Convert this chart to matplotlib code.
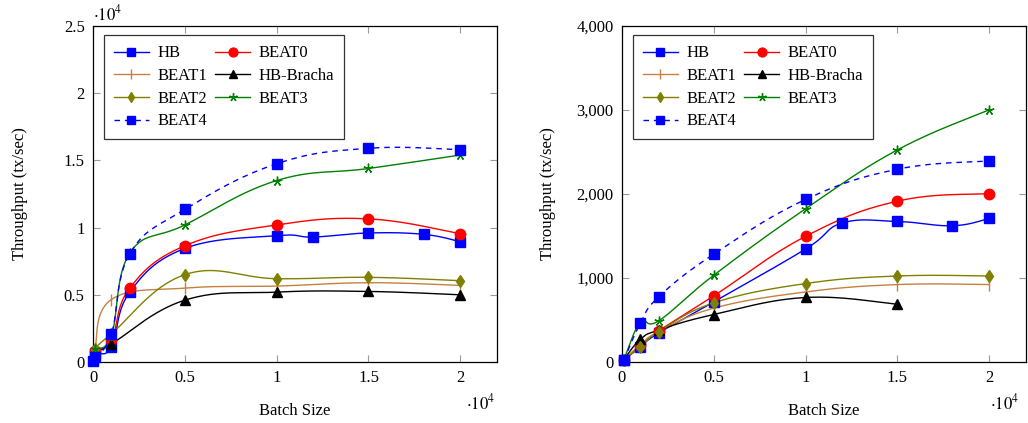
import numpy as np
import matplotlib
matplotlib.use("Agg")
import matplotlib.pyplot as plt
from matplotlib.lines import Line2D
from matplotlib.ticker import FuncFormatter

plt.rcParams['font.family'] = ['Liberation Serif', 'DejaVu Serif']
plt.rcParams['mathtext.fontset'] = 'stix'
plt.rcParams['font.size'] = 12

# ---- left panel data (tx/sec) ----
L_HB_X = [10, 100, 1000, 2000, 5000, 10000, 12000, 15000, 18000, 20000]
L_HB_Y = [50, 650, 1100, 5200, 8450, 9400, 9300, 9600, 9500, 8950]
L_X7 = [100, 1000, 2000, 5000, 10000, 15000, 20000]
L_BEAT0 = [850, 1650, 5500, 8650, 10200, 10650, 9550]
L_BEAT3 = [1000, 2000, 8100, 10200, 13500, 14400, 15400]
L_BEAT4 = [350, 2100, 8050, 11350, 14750, 15900, 15800]
L_X6 = [100, 1000, 5000, 10000, 15000, 20000]
L_BEAT1 = [1000, 4650, 5500, 5650, 5900, 5700]
L_BEAT2 = [1000, 2100, 6500, 6200, 6300, 6050]
L_BRACHA = [700, 1350, 4600, 5200, 5250, 5000]

# ---- right panel data (tx/sec) ----
R_HB_X = [100, 1000, 2000, 5000, 10000, 12000, 15000, 18000, 20000]
R_HB_Y = [20, 182, 345, 716, 1345, 1655, 1673, 1622, 1709]
R_X7 = [100, 1000, 2000, 5000, 10000, 15000, 20000]
R_BEAT0 = [25, 200, 370, 787, 1496, 1915, 2006]
R_BEAT1 = [25, 205, 360, 641, 834, 922, 922]
R_BEAT2 = [25, 174, 360, 704, 934, 1024, 1024]
R_BEAT3 = [25, 470, 490, 1033, 1824, 2525, 3003]
R_BEAT4 = [20, 459, 775, 1284, 1935, 2295, 2394]
R_BRACHA_X = [100, 1000, 2000, 5000, 10000, 15000]
R_BRACHA = [30, 269, 380, 565, 768, 688]

STYLES = {
    "HB":        dict(color=(0, 0, 1), marker="s", ms=7, ls="-"),
    "BEAT0":     dict(color=(1, 0, 0), marker="o", ms=7.5, ls="-"),
    "BEAT1":     dict(color=(0.78, 0.5, 0.25), marker="|", ms=8, ls="-"),
    "HB-Bracha": dict(color=(0, 0, 0), marker="^", ms=6.5, ls="-"),
    "BEAT2":     dict(color=(0.5, 0.5, 0), marker="d", ms=6.5, ls="-"),
    "BEAT3":     dict(color=(0, 0.5, 0), marker=(5, 2, 0), ms=7, ls="-"),
    "BEAT4":     dict(color=(0, 0, 1), marker="s", ms=7, ls=(0, (4, 3.5))),
}


def smooth_plot(ax, xs, ys, name, tension=0.2):
    # smooth curve through the points (like pgfplots "smooth"), drawn in screen space
    st = STYLES[name]
    x0, x1 = ax.get_xlim()
    y0, y1 = ax.get_ylim()
    bb = ax.get_position()
    fw, fh = ax.figure.get_size_inches()
    sx = bb.width * fw / (x1 - x0)
    sy = bb.height * fh / (y1 - y0)
    p = np.column_stack([(np.asarray(xs, float) - x0) * sx,
                         (np.asarray(ys, float) - y0) * sy])
    n = len(p)
    t = np.linspace(0, 1, 40)[:, None]
    segs = []
    for i in range(n - 1):
        a, b = p[i], p[i + 1]
        prev = p[i - 1] if i > 0 else a
        nxt = p[i + 2] if i + 2 < n else b
        c1 = a + tension * (b - prev)
        c2 = b - tension * (nxt - a)
        seg = (1 - t) ** 3 * a + 3 * (1 - t) ** 2 * t * c1 + 3 * (1 - t) * t ** 2 * c2 + t ** 3 * b
        segs.append(seg if i == 0 else seg[1:])
    pts = np.vstack(segs)
    ax.plot(pts[:, 0] / sx + x0, pts[:, 1] / sy + y0, color=st["color"],
            ls=st["ls"], lw=1.0, zorder=2)
    ax.plot(xs, ys, ls="none", marker=st["marker"], ms=st["ms"], color=st["color"],
            mec=st["color"], mew=1.0, clip_on=False, zorder=3)


def setup(ax, ymax, ystep, yfmt):
    ax.set_xlim(0, 22000)
    ax.set_ylim(0, ymax)
    ax.set_xticks(np.arange(0, 20001, 5000))
    ax.set_yticks(np.arange(0, ymax + 1, ystep))
    ax.xaxis.set_major_formatter(FuncFormatter(lambda v, p: f"{v / 1e4:g}"))
    ax.yaxis.set_major_formatter(FuncFormatter(yfmt))
    ax.tick_params(direction="in", top=True, right=True, length=5, width=0.8,
                   color="0.6", labelsize=12, pad=6)
    for s in ax.spines.values():
        s.set_linewidth(0.9)
    ax.set_xlabel("Batch Size", fontsize=12, labelpad=12)
    ax.set_ylabel("Throughput (tx/sec)", fontsize=12)
    ax.yaxis.set_label_coords(-0.162, 0.5)


def legend(ax):
    order = ["HB", "BEAT1", "BEAT2", "BEAT4", "BEAT0", "HB-Bracha", "BEAT3"]
    handles = []
    for nm in order:
        st = STYLES[nm]
        handles.append(Line2D([], [], color=st["color"], ls=st["ls"], lw=1.0,
                              marker=st["marker"], ms=st["ms"] * 0.85, label=nm))
    lg = ax.legend(handles=handles, ncol=2, loc="upper left",
                   bbox_to_anchor=(0.027, 0.972), fontsize=12, frameon=True,
                   fancybox=False, edgecolor="black", handlelength=2.1,
                   handletextpad=0.5, columnspacing=0.5, labelspacing=0.4,
                   borderpad=0.6, borderaxespad=0)
    lg.get_frame().set_linewidth(0.9)


fig = plt.figure(figsize=(10.28, 4.23), dpi=100)
axL = fig.add_axes([0.0905, 0.1442, 0.393, 0.7943])
axR = fig.add_axes([0.605, 0.1442, 0.393, 0.7943])

setup(axL, 25000, 5000, lambda v, p: f"{v / 1e4:g}")
setup(axR, 4000, 1000, lambda v, p: f"{v:,.0f}")

smooth_plot(axL, L_HB_X, L_HB_Y, "HB")
smooth_plot(axL, L_X7, L_BEAT0, "BEAT0")
smooth_plot(axL, L_X6, L_BEAT1, "BEAT1")
smooth_plot(axL, L_X6, L_BRACHA, "HB-Bracha")
smooth_plot(axL, L_X6, L_BEAT2, "BEAT2")
smooth_plot(axL, L_X7, L_BEAT3, "BEAT3")
smooth_plot(axL, L_X7, L_BEAT4, "BEAT4")

smooth_plot(axR, R_HB_X, R_HB_Y, "HB")
smooth_plot(axR, R_X7, R_BEAT0, "BEAT0")
smooth_plot(axR, R_X7, R_BEAT1, "BEAT1")
smooth_plot(axR, R_BRACHA_X, R_BRACHA, "HB-Bracha")
smooth_plot(axR, R_X7, R_BEAT2, "BEAT2")
smooth_plot(axR, R_X7, R_BEAT3, "BEAT3")
smooth_plot(axR, R_X7, R_BEAT4, "BEAT4")

legend(axL)
legend(axR)

axL.text(0.035, 1.035, r"$\cdot 10^{4}$", transform=axL.transAxes, fontsize=12,
         ha="center", va="center")
axL.text(0.958, -0.122, r"$\cdot 10^{4}$", transform=axL.transAxes, fontsize=12,
         ha="center", va="center")
axR.text(0.948, -0.122, r"$\cdot 10^{4}$", transform=axR.transAxes, fontsize=12,
         ha="center", va="center")

fig.savefig("out.png", dpi=100)
